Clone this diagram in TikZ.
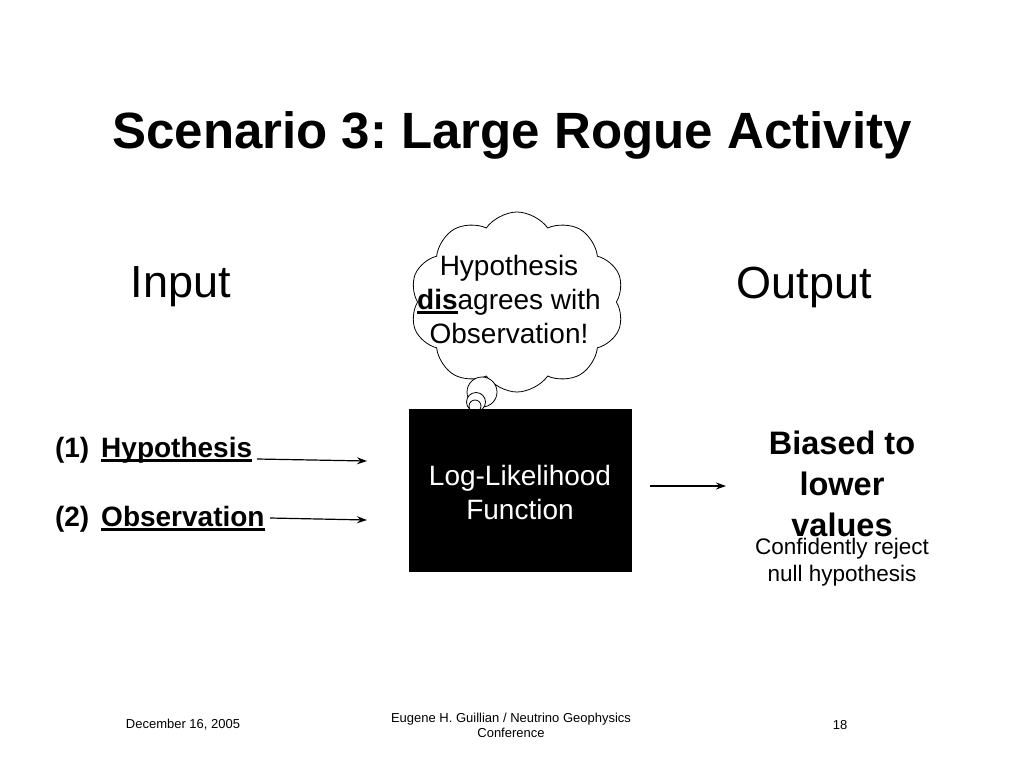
\documentclass[tikz,border=0pt]{standalone}
\usepackage{fontspec}
\setmainfont{Liberation Sans}
\usetikzlibrary{shapes.symbols,arrows.meta}
\frenchspacing
\newcommand\myul[1]{\setbox0\hbox{#1}\rlap{\rule[-4.5pt]{\wd0}{2.5pt}}\box0}
\begin{document}
\begin{tikzpicture}[x=1pt,y=-1pt,
  every node/.style={inner sep=0pt,outer sep=0pt},
  titletxt/.style={font=\fontsize{51}{60}\selectfont\bfseries},
  bigtxt/.style={font=\fontsize{45}{54}\selectfont},
  midtxt/.style={font=\fontsize{28}{34}\selectfont,align=center},
  boldtxt/.style={font=\fontsize{32.5}{41}\selectfont\bfseries,align=center},
  smalltxt/.style={font=\fontsize{22.5}{27}\selectfont,align=center},
  foot/.style={font=\fontsize{13}{15}\selectfont,align=center},
  conn/.style={-{Stealth[length=10pt,width=7pt]},line width=1.2pt},
  bubble/.style={draw,line width=0.8pt,fill=white}]
\useasboundingbox (0,0) rectangle (1024,768);
\node[titletxt] (title) at (512,135) {Scenario 3: Large Rogue Activity};
\node[bigtxt] (input) at (181,287) {Input};
\node[bigtxt] (output) at (804,287) {Output};
% cloud
\node[cloud,draw,line width=0.8pt,cloud puffs=10,cloud puff arc=110,aspect=1.2,minimum width=214pt,minimum height=180pt] (cloud) at (517,302) {};
\node[bubble,circle,minimum size=30pt] (b1) at (482,392) {};
\node[bubble,circle,minimum size=19pt] (b2) at (476,402) {};
\node[bubble,circle,minimum size=12pt] (b3) at (475,406) {};
\node[midtxt] (thought) at (509,299) {Hypothesis\\\myul{\bfseries dis}agrees with\\Observation!};
% box
\node[fill=black,minimum width=223pt,minimum height=163pt] (llf) at (520.5,490.5) {};
\node[midtxt,text=white] (llftxt) at (520,492) {Log-Likelihood\\Function};
% inputs
\node[font=\fontsize{28}{34}\selectfont\bfseries,anchor=base west] (h) at (55,457) {(1)\hspace{12pt}\myul{Hypothesis}};
\node[font=\fontsize{28}{34}\selectfont\bfseries,anchor=base west] (o) at (55,526) {(2)\hspace{12pt}\myul{Observation}};
\coordinate (hs) at (257,459);
\coordinate (he) at (367,461);
\coordinate (os) at (270,518);
\coordinate (oe) at (367,520);
\draw[conn] (hs) -- (he);
\draw[conn] (os) -- (oe);
\coordinate (rs) at (650,486);
\coordinate (re) at (726,486);
\draw[conn] (rs) -- (re);
% output
\node[boldtxt] (biased) at (842,484) {Biased to\\lower\\values};
\node[smalltxt] (conf) at (842,562) {Confidently reject\\null hypothesis};
% footer
\node[foot] (date) at (183,725) {December 16, 2005};
\node[foot] (author) at (511,725) {Eugene H. Guillian / Neutrino Geophysics\\Conference};
\node[foot] (page) at (840,725) {18};
\end{tikzpicture}
\end{document}
